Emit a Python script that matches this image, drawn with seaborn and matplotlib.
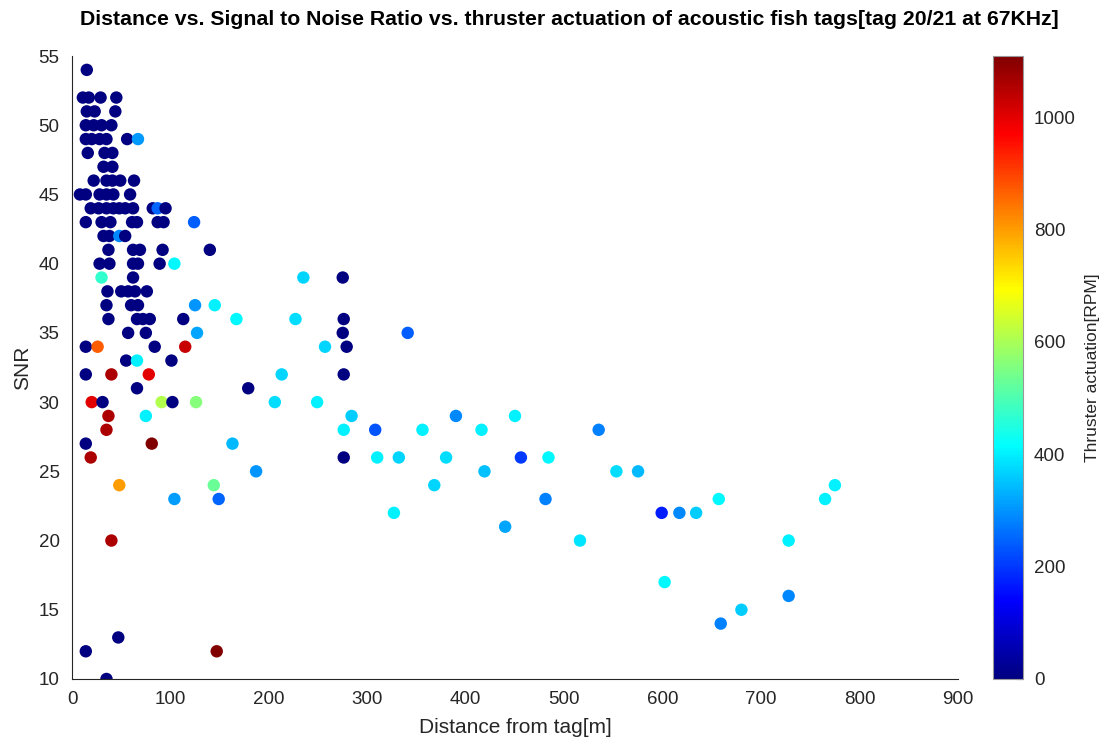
import numpy as np
import pandas as pd
import seaborn as sns
import matplotlib.pyplot as plt
import matplotlib as mpl
from matplotlib.colors import LinearSegmentedColormap

# distance from tag [m], SNR, thruster actuation [RPM]
distance = [
    15,
    11, 17, 29, 45,
    15, 23, 44,
    14, 22, 30, 40,
    14, 20, 28, 35, 56, 67,
    16, 33, 41,
    32, 41,
    22, 35, 41, 49, 63,
    8, 14, 28, 35, 42, 59,
    19, 27, 35, 42, 48, 54, 62, 82, 87, 95,
    14, 30, 39, 61, 66, 87, 93, 124,
    32, 38, 48, 54,
    37, 62, 69, 92, 140,
    28, 38, 62, 67, 89, 104,
    30, 62, 235, 275,
    36, 50, 57, 64, 76,
    35, 60, 67, 125, 145,
    37, 66, 72, 79, 113, 167, 227, 276,
    57, 75, 127, 275, 341,
    14, 26, 84, 115, 257, 279,
    55, 66, 101,
    14, 40, 78, 213, 276,
    66, 179,
    20, 31, 91, 102, 126, 206, 249,
    37, 75, 284, 390, 450,
    35, 276, 308, 356, 416, 535,
    14, 81, 163,
    19, 276, 310, 332, 380, 456, 484,
    187, 419, 553, 575,
    48, 144, 368, 775,
    104, 149, 481, 657, 765,
    327, 599, 617, 634,
    440,
    40, 516, 728,
    602,
    728,
    680,
    659,
    47,
    14, 147,
    35,
]
snr = [
    54,
    52, 52, 52, 52,
    51, 51, 51,
    50, 50, 50, 50,
    49, 49, 49, 49, 49, 49,
    48, 48, 48,
    47, 47,
    46, 46, 46, 46, 46,
    45, 45, 45, 45, 45, 45,
    44, 44, 44, 44, 44, 44, 44, 44, 44, 44,
    43, 43, 43, 43, 43, 43, 43, 43,
    42, 42, 42, 42,
    41, 41, 41, 41, 41,
    40, 40, 40, 40, 40, 40,
    39, 39, 39, 39,
    38, 38, 38, 38, 38,
    37, 37, 37, 37, 37,
    36, 36, 36, 36, 36, 36, 36, 36,
    35, 35, 35, 35, 35,
    34, 34, 34, 34, 34, 34,
    33, 33, 33,
    32, 32, 32, 32, 32,
    31, 31,
    30, 30, 30, 30, 30, 30, 30,
    29, 29, 29, 29, 29,
    28, 28, 28, 28, 28, 28,
    27, 27, 27,
    26, 26, 26, 26, 26, 26, 26,
    25, 25, 25, 25,
    24, 24, 24, 24,
    23, 23, 23, 23, 23,
    22, 22, 22, 22,
    21,
    20, 20, 20,
    17,
    16,
    15,
    14,
    13,
    12, 12,
    10,
]
rpm = [
    0,
    0, 0, 0, 0,
    0, 0, 0,
    0, 0, 0, 0,
    0, 0, 0, 0, 0, 305,
    0, 0, 0,
    0, 0,
    0, 0, 0, 0, 0,
    0, 0, 0, 0, 0, 0,
    0, 0, 0, 0, 0, 0, 0, 0, 250, 0,
    0, 0, 0, 0, 0, 0, 0, 240,
    0, 0, 290, 0,
    0, 0, 0, 0, 0,
    0, 0, 0, 0, 0, 410,
    470, 0, 370, 0,
    0, 0, 0, 0, 0,
    0, 0, 0, 300, 400,
    0, 0, 0, 0, 0, 410, 380, 0,
    0, 0, 320, 0, 240,
    0, 870, 0, 1030, 370, 0,
    0, 400, 0,
    0, 1060, 1000, 370, 0,
    0, 0,
    1000, 0, 610, 0, 560, 380, 400,
    1060, 400, 360, 290, 400,
    1060, 400, 230, 400, 400, 280,
    0, 1110, 340,
    1060, 0, 400, 370, 380, 200, 410,
    300, 350, 380, 340,
    800, 530, 370, 400,
    310, 250, 280, 410, 400,
    400, 170, 290, 360,
    320,
    1060, 390, 400,
    410,
    290,
    360,
    280,
    0,
    0, 1110,
    0,
]

df = pd.DataFrame({"distance": distance, "snr": snr, "rpm": rpm})

sns.set_style("white")
plt.rcParams['font.family'] = ['Liberation Sans', 'DejaVu Sans']
grey = '#262626'

# MATLAB-style jet
jet = LinearSegmentedColormap.from_list("mjet", [
    (0.0, (0, 0, 0.5)), (0.125, (0, 0, 1)), (0.375, (0, 1, 1)),
    (0.625, (1, 1, 0)), (0.875, (1, 0, 0)), (1.0, (0.5, 0, 0))])

fig = plt.figure(figsize=(11.08, 7.44), dpi=100)
fig.set_facecolor('white')
ax = fig.add_axes([0.065, 0.0874, 0.7996, 0.8373])

norm = mpl.colors.Normalize(vmin=0, vmax=1110)
sns.scatterplot(data=df, x="distance", y="snr", hue="rpm", palette=jet,
                hue_norm=norm, s=80, edgecolor='none', legend=False, ax=ax)

ax.set_xlim(0, 900)
ax.set_ylim(10, 55)
ax.set_xticks(range(0, 901, 100))
ax.set_yticks(range(10, 56, 5))
ax.tick_params(direction='in', length=5, width=0.8, colors=grey, labelsize=13.5,
               labelcolor=grey)
ax.tick_params(axis='x', pad=9)
ax.tick_params(axis='y', pad=9)
for side in ['top', 'right']:
    ax.spines[side].set_visible(False)
for side in ['left', 'bottom']:
    ax.spines[side].set_color(grey)
    ax.spines[side].set_linewidth(0.8)
ax.set_xlabel("Distance from tag[m]", fontsize=15, color=grey, labelpad=7)
ax.set_ylabel("SNR", fontsize=15, color=grey, labelpad=5)

cax = fig.add_axes([0.896, 0.0874, 0.027, 0.838])
sm = plt.cm.ScalarMappable(norm=norm, cmap=jet)
cb = fig.colorbar(sm, cax=cax)
cb.set_ticks(range(0, 1001, 200))
cb.ax.tick_params(direction='in', length=5, width=0.8, colors=grey, labelsize=13.5, pad=8)
cb.outline.set_edgecolor('#999999')
cb.outline.set_linewidth(0.8)
cb.set_label("Thruster actuation[RPM]", fontsize=12.5, color=grey, labelpad=7)

fig.text(0.514, 0.974, "Distance vs. Signal to Noise Ratio vs. thruster actuation of acoustic fish tags[tag 20/21 at 67KHz]",
         ha='center', va='center', fontsize=15.3, fontweight='bold', color='black')

plt.savefig("out.png", dpi=100)
